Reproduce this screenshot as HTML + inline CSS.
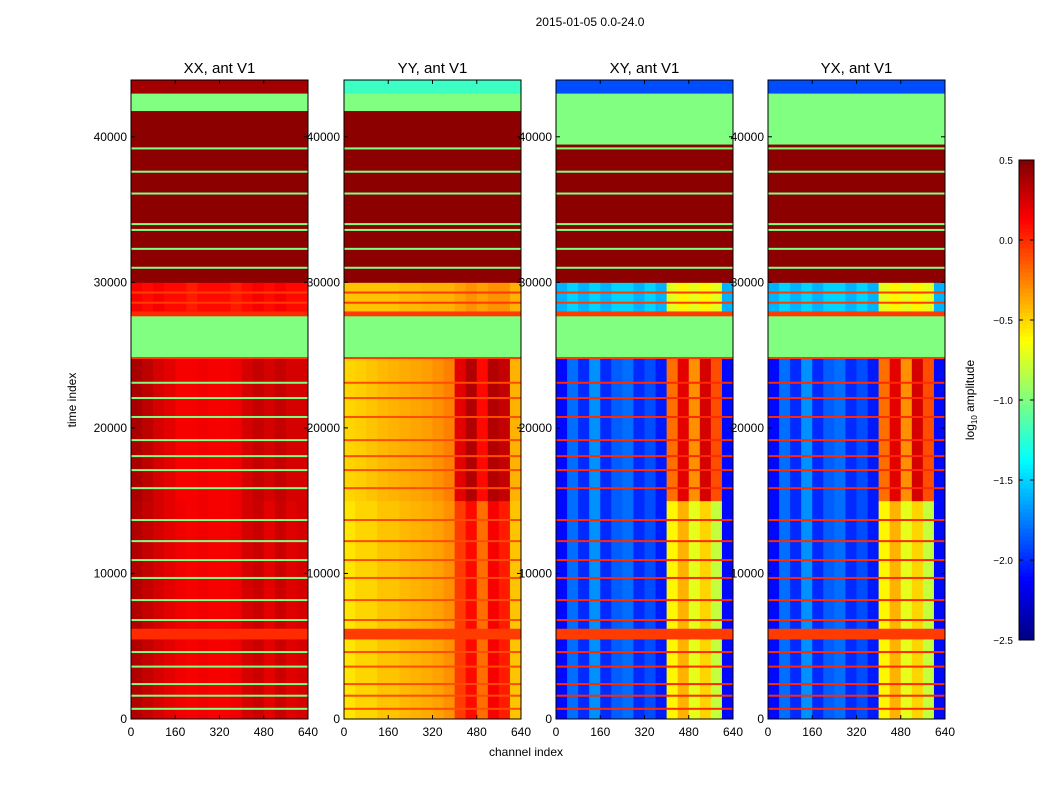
<!DOCTYPE html>
<html><head><meta charset="utf-8">
<style>
html,body{margin:0;padding:0;background:#fff;}
svg text{font-family:"Liberation Sans",sans-serif;}
</style></head>
<body>
<svg id="fig" width="1050" height="800" viewBox="0 0 1050 800" xmlns="http://www.w3.org/2000/svg">
<rect width="1050" height="800" fill="#fff"/>
<text x="590" y="26" font-size="12" text-anchor="middle">2015-01-05 0.0-24.0</text>
<text x="526" y="756" font-size="12" text-anchor="middle">channel index</text>
<text transform="translate(76,400) rotate(-90)" font-size="12" text-anchor="middle">time index</text>
<g id="panels"></g>
<g id="cbar"></g>
</svg>
<script>
// ---- data ----
const panelTitles = ["XX, ant V1","YY, ant V1","XY, ant V1","YX, ant V1"];
const channelEdges = [0,40,80,120,160,200,240,280,320,360,400,440,480,520,560,600,640];
const profLow = [
 [0.35,0.3,0.25,0.2,0.17,0.15,0.17,0.15,0.15,0.17,0.25,0.28,0.2,0.28,0.22,0.25],
 [-0.55,-0.5,-0.5,-0.45,-0.45,-0.42,-0.4,-0.38,-0.35,-0.3,-0.05,0.1,-0.2,0.15,0.05,-0.45],
 [-2.1,-1.8,-2.0,-1.7,-2.0,-1.85,-1.8,-2.0,-1.9,-2.05,-0.6,-0.4,-0.7,-0.5,-0.8,-2.1],
 [-2.1,-1.8,-2.0,-1.7,-2.0,-1.85,-1.8,-2.0,-1.9,-2.05,-0.6,-0.4,-0.7,-0.5,-0.8,-2.1]];
const profHigh = [
 [0.38,0.32,0.25,0.2,0.15,0.15,0.17,0.15,0.15,0.17,0.25,0.3,0.25,0.3,0.25,0.25],
 [-0.5,-0.48,-0.45,-0.42,-0.4,-0.38,-0.36,-0.34,-0.3,-0.25,0.2,0.35,0.1,0.35,0.3,-0.4],
 [-2.1,-1.8,-2.0,-1.7,-2.0,-1.85,-1.8,-2.0,-1.9,-2.05,-0.2,0.2,-0.3,0.25,-0.1,-2.1],
 [-2.1,-1.8,-2.0,-1.7,-2.0,-1.85,-1.8,-2.0,-1.9,-2.05,-0.2,0.2,-0.3,0.25,-0.1,-2.1]];
const profTop = [
 [0.15,0.1,0.15,0.1,0.1,0.05,0.1,0.1,0.1,0.05,0.1,0.15,0.1,0.15,0.1,0.1],
 [-0.45,-0.45,-0.45,-0.45,-0.45,-0.42,-0.42,-0.4,-0.4,-0.4,-0.35,-0.3,-0.35,-0.3,-0.3,-0.4],
 [-1.6,-1.5,-1.6,-1.5,-1.6,-1.5,-1.5,-1.6,-1.5,-1.6,-0.7,-0.6,-0.7,-0.6,-0.7,-1.6],
 [-1.6,-1.5,-1.6,-1.5,-1.6,-1.5,-1.5,-1.6,-1.5,-1.6,-0.7,-0.6,-0.7,-0.6,-0.7,-1.6]];
// data-region segments [start,end, profile index 0=low 1=high 2=top]
const dataSegStart = [0,6200,15000,28000];
const dataSegEnd   = [5500,15000,24800,30000];
const dataSegProf  = [0,0,1,2];
// uniform bands [start,end]
const bandStart = [5500,24800,27700,30000,39500,41800,43000];
const bandEnd   = [6200,27700,28000,39500,41800,43000,43900];
const bandXX = [0.0,-1.0,0.0,0.46,0.46,-1.0,0.4];
const bandYY = [-0.05,-1.0,-0.05,0.46,0.46,-1.0,-1.2];
const bandXY = [-0.05,-1.0,-0.05,0.46,-1.0,-1.0,-1.9];
const bandYX = [-0.05,-1.0,-0.05,0.46,-1.0,-1.0,-1.9];
// thin flag lines
const lineTimes = [700,1600,2400,3600,4600,6800,8170,9690,10920,12220,13670,15860,17100,18060,19160,20750,22050,23100,24800,28600,29300,31000,32300,33600,34000,36100,37600,39200];
const lineXX = [-1,-1,-1,-1,-1,-1,-1,-1,-1,-1,-1,-1,-1,-1,-1,-1,-1,-1,-0.05,-0.05,-0.05,-1,-1,-1,-1,-1,-1,-1];
const lineYY = [-0.1,-0.1,-0.1,-0.1,-0.1,-0.1,-0.1,-0.1,-0.1,-0.1,-0.1,-0.1,-0.1,-0.1,-0.1,-0.1,-0.1,-0.1,-0.05,-0.05,-0.05,-1,-1,-1,-1,-1,-1,-1];
const lineXY = [0,0,0,0,0,0,0,0,0,0,0,0,0,0,0,0,0,0,-0.05,-0.05,-0.05,-1,-1,-1,-1,-1,-1,-1];
const lineYX = [0,0,0,0,0,0,0,0,0,0,0,0,0,0,0,0,0,0,-0.05,-0.05,-0.05,-1,-1,-1,-1,-1,-1,-1];
const yTicks = [0,10000,20000,30000,40000];
const xTicks = [0,160,320,480,640];
const cbTicks = [-2.5,-2.0,-1.5,-1.0,-0.5,0.0,0.5];
const cbLabels = ["\u22122.5","\u22122.0","\u22121.5","\u22121.0","\u22120.5","0.0","0.5"];

// ---- layout / scales ----
const NS="http://www.w3.org/2000/svg";
const panelX=[131,344,556,768], PW=177, PY0=80, PY1=719, TMAX=43900;
const yS=t=>PY1-(t/TMAX)*(PY1-PY0);
const vmin=-2.5,vmax=0.5;
function jet(v){let t=(v-vmin)/(vmax-vmin);t=Math.max(0,Math.min(1,t));
 const c=x=>Math.round(255*Math.max(0,Math.min(1,x)));
 return `rgb(${c(1.5-Math.abs(4*t-3))},${c(1.5-Math.abs(4*t-2))},${c(1.5-Math.abs(4*t-1))})`;}
function el(tag,attrs,parent){const e=document.createElementNS(NS,tag);for(const k in attrs)e.setAttribute(k,attrs[k]);parent.appendChild(e);return e;}
const bandVals=[bandXX,bandYY,bandXY,bandYX], lineVals=[lineXX,lineYY,lineXY,lineYX];
const root=document.getElementById('panels');
panelX.forEach((px,p)=>{
 const xS=c=>px+(c/640)*PW;
 const g=el('g',{},root);
 
 
 const profs=[profLow[p],profHigh[p],profTop[p]];
 dataSegStart.forEach((s,i)=>{
  const prof=profs[dataSegProf[i]];
  for(let c=0;c<16;c++){
   const r=el('rect',{x:xS(channelEdges[c]),y:yS(dataSegEnd[i]),width:xS(channelEdges[c+1])-xS(channelEdges[c])+0.5,height:yS(dataSegStart[i])-yS(dataSegEnd[i])+0.5,fill:jet(prof[c])},g);
   
   
  }
 });
 bandStart.forEach((s,i)=>{
  const r=el('rect',{x:px,y:yS(bandEnd[i]),width:PW,height:yS(s)-yS(bandEnd[i])+0.5,fill:jet(bandVals[p][i])},g);
  
  
 });
 lineTimes.forEach((t,i)=>{
  const r=el('rect',{x:px,y:yS(t)-1,width:PW,height:2,fill:jet(lineVals[p][i])},g);
  
  
 });
 const fr=el('rect',{x:px,y:PY0,width:PW,height:PY1-PY0,fill:'none',stroke:'#000','stroke-width':1},g);
 
 
 const tt=el('text',{x:px+PW/2,y:73,'font-size':15,'text-anchor':'middle'},g);tt.textContent=panelTitles[p];
 
 
 xTicks.forEach(v=>{const x=xS(v);
  el('line',{x1:x,x2:x,y1:PY1,y2:PY1-4,stroke:'#000'},g);el('line',{x1:x,x2:x,y1:PY0,y2:PY0+4,stroke:'#000'},g);
  const t=el('text',{x:x,y:736,'font-size':12,'text-anchor':'middle'},g);t.textContent=v;
  
  });
 yTicks.forEach(v=>{const y=yS(v);
  el('line',{x1:px,x2:px+4,y1:y,y2:y,stroke:'#000'},g);el('line',{x1:px+PW,x2:px+PW-4,y1:y,y2:y,stroke:'#000'},g);
  const t=el('text',{x:px-4,y:y+4,'font-size':12,'text-anchor':'end'},g);t.textContent=v;
  
  });
});
// colorbar
const cb=document.getElementById('cbar');
const CX=1019,CW=15,CY0=160,CY1=640;
const cS=v=>CY1-(v-vmin)/(vmax-vmin)*(CY1-CY0);
for(let i=0;i<120;i++){const v0=vmin+i*(vmax-vmin)/120,v1=vmin+(i+1)*(vmax-vmin)/120;
 const r=el('rect',{x:CX,y:cS(v1),width:CW,height:cS(v0)-cS(v1)+0.5,fill:jet((v0+v1)/2)},cb);
 
 }
const cf=el('rect',{x:CX,y:CY0,width:CW,height:CY1-CY0,fill:'none',stroke:'#000'},cb);


cbTicks.forEach((v,i)=>{const y=cS(v);
 el('line',{x1:CX,x2:CX+4,y1:y,y2:y,stroke:'#000'},cb);el('line',{x1:CX+CW,x2:CX+CW-4,y1:y,y2:y,stroke:'#000'},cb);
 const t=el('text',{x:1013,y:y+4,'font-size':10,'text-anchor':'end'},cb);t.textContent=cbLabels[i];
 
 });
const cl=el('text',{transform:'translate(974,400) rotate(-90)','font-size':12,'text-anchor':'middle'},cb);
cl.innerHTML='log<tspan font-size="8" dy="3">10</tspan><tspan dy="-3"> amplitude</tspan>';


</script>
</body></html>
